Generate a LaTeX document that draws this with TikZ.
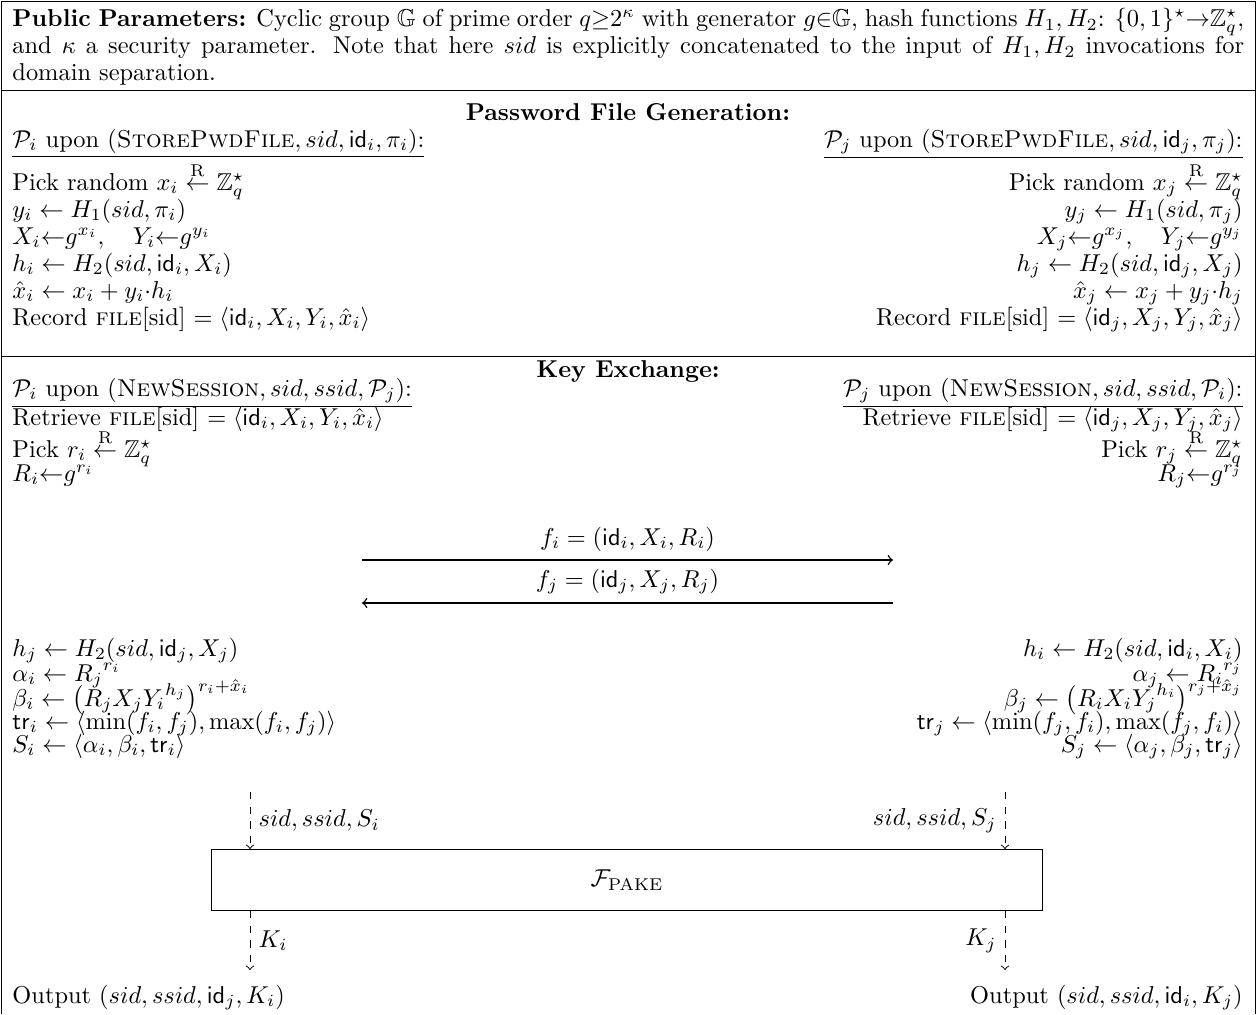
\documentclass[tikz,border=0pt]{standalone}
\usepackage{amsmath,amssymb}
\begin{document}
\begin{tikzpicture}[x=0.41pt,y=-0.41pt,
  lrow/.style={anchor=base west,inner sep=0pt},
  rrow/.style={anchor=base east,inner sep=0pt},
  head/.style={anchor=base,inner sep=0pt,font=\bfseries},
  msg/.style={draw,semithick,->},
  sig/.style={draw,dashed,->}]
\useasboundingbox (0,0) rectangle (1256,1014);
\draw (1,1014) -- (1,1) -- (1255,1) -- (1255,1014);
\node[anchor=north west,inner sep=0pt,text width=505pt,align=justify,font=\fontsize{10pt}{11pt}\selectfont] (pp) at (12,8) {\textbf{Public Parameters:} Cyclic group $\mathbb{G}$ of prime order $q{\geq}2^\kappa$ with generator $g{\in}\mathbb{G}$, hash functions $H_1,H_2$: $\{0,1\}^\star{\to}\mathbb{Z}_q^\star$, and $\kappa$ a security parameter. Note that here $sid$ is explicitly concatenated to the input of $H_1,H_2$ invocations for domain separation.};
\draw (1,90) -- (1255,90);
\draw (1,356) -- (1255,356);
\node[head] (pfg) at (628,120) {Password File Generation:};
\node[lrow] (pi1) at (12,147) {\underline{$\mathcal{P}_i$ upon $(\textsc{StorePwdFile}, sid, \mathsf{id}_i, \pi_i)$:}};
\node[lrow] (pi2) at (12,190) {Pick random $x_i \stackrel{\mathrm{R}}{\leftarrow} \mathbb{Z}_q^\star$};
\node[lrow] (pi3) at (12,217) {$y_i \leftarrow H_1(sid, \pi_i)$};
\node[lrow] (pi4) at (12,244) {$X_i{\leftarrow}g^{x_i},\quad Y_i{\leftarrow}g^{y_i}$};
\node[lrow] (pi5) at (12,271) {$h_i \leftarrow H_2(sid, \mathsf{id}_i, X_i)$};
\node[lrow] (pi6) at (12,298) {$\hat{x}_i \leftarrow x_i + y_i{\cdot}h_i$};
\node[lrow] (pi7) at (12,325) {Record \textsc{file}[sid] $= \langle \mathsf{id}_i, X_i, Y_i, \hat{x}_i\rangle$};
\node[rrow] (pj1) at (1243,147) {\underline{$\mathcal{P}_j$ upon $(\textsc{StorePwdFile}, sid, \mathsf{id}_j, \pi_j)$:}};
\node[rrow] (pj2) at (1243,190) {Pick random $x_j \stackrel{\mathrm{R}}{\leftarrow} \mathbb{Z}_q^\star$};
\node[rrow] (pj3) at (1243,217) {$y_j \leftarrow H_1(sid, \pi_j)$};
\node[rrow] (pj4) at (1243,244) {$X_j{\leftarrow}g^{x_j},\quad Y_j{\leftarrow}g^{y_j}$};
\node[rrow] (pj5) at (1243,271) {$h_j \leftarrow H_2(sid, \mathsf{id}_j, X_j)$};
\node[rrow] (pj6) at (1243,298) {$\hat{x}_j \leftarrow x_j + y_j{\cdot}h_j$};
\node[rrow] (pj7) at (1243,325) {Record \textsc{file}[sid] $= \langle \mathsf{id}_j, X_j, Y_j, \hat{x}_j\rangle$};
\node[head] (kex) at (628,377) {Key Exchange:};
\node[lrow] (ki1) at (12,396) {\underline{$\mathcal{P}_i$ upon $(\textsc{NewSession}, sid, ssid, \mathcal{P}_j)$:}};
\node[lrow] (ki2) at (12,425) {Retrieve \textsc{file}[sid] $= \langle \mathsf{id}_i, X_i, Y_i, \hat{x}_i\rangle$};
\node[lrow] (ki3) at (12,457) {Pick $r_i \stackrel{\mathrm{R}}{\leftarrow} \mathbb{Z}_q^\star$};
\node[lrow] (ki4) at (12,481) {$R_i{\leftarrow}g^{r_i}$};
\node[rrow] (kj1) at (1243,396) {\underline{$\mathcal{P}_j$ upon $(\textsc{NewSession}, sid, ssid, \mathcal{P}_i)$:}};
\node[rrow] (kj2) at (1243,425) {Retrieve \textsc{file}[sid] $= \langle \mathsf{id}_j, X_j, Y_j, \hat{x}_j\rangle$};
\node[rrow] (kj3) at (1243,457) {Pick $r_j \stackrel{\mathrm{R}}{\leftarrow} \mathbb{Z}_q^\star$};
\node[rrow] (kj4) at (1243,481) {$R_j{\leftarrow}g^{r_j}$};
\coordinate (ma) at (362,560);
\coordinate (mb) at (893,560);
\coordinate (mc) at (362,603);
\coordinate (md) at (893,603);
\path[msg] (ma) -- node[above] {$f_i = (\mathsf{id}_i, X_i, R_i)$} (mb);
\path[msg] (md) -- node[above] {$f_j = (\mathsf{id}_j, X_j, R_j)$} (mc);
\node[lrow] (ci1) at (12,656) {$h_j \leftarrow H_2(sid, \mathsf{id}_j, X_j)$};
\node[lrow] (ci2) at (12,681) {$\alpha_i \leftarrow {R_j}^{r_i}$};
\node[lrow] (ci3) at (12,706) {$\beta_i \leftarrow \big(R_j X_j {Y_i}^{h_j}\big)^{r_i+\hat{x}_i}$};
\node[lrow] (ci4) at (12,729) {$\mathsf{tr}_i \leftarrow \langle\min(f_i, f_j), \max(f_i, f_j)\rangle$};
\node[lrow] (ci5) at (12,752) {$S_i \leftarrow \langle\alpha_i, \beta_i, \mathsf{tr}_i\rangle$};
\node[rrow] (cj1) at (1243,656) {$h_i \leftarrow H_2(sid, \mathsf{id}_i, X_i)$};
\node[rrow] (cj2) at (1243,681) {$\alpha_j \leftarrow {R_i}^{r_j}$};
\node[rrow] (cj3) at (1243,706) {$\beta_j \leftarrow \big(R_i X_i {Y_j}^{h_i}\big)^{r_j+\hat{x}_j}$};
\node[rrow] (cj4) at (1243,729) {$\mathsf{tr}_j \leftarrow \langle\min(f_j, f_i), \max(f_j, f_i)\rangle$};
\node[rrow] (cj5) at (1243,752) {$S_j \leftarrow \langle\alpha_j, \beta_j, \mathsf{tr}_j\rangle$};
\node[draw,minimum width=341pt,minimum height=25pt] (pake) at (627,880) {$\mathcal{F}_{\mathrm{PAKE}}$};
\coordinate (si) at (250,792);
\coordinate (sj) at (1005,792);
\coordinate (oi) at (250,970);
\coordinate (oj) at (1005,970);
\path[sig] (si) -- node[right] {$sid, ssid, S_i$} (si |- pake.north);
\path[sig] (sj) -- node[left] {$sid, ssid, S_j$} (sj |- pake.north);
\path[sig] (oi |- pake.south) -- node[right] {$K_i$} (oi);
\path[sig] (oj |- pake.south) -- node[left] {$K_j$} (oj);
\node[lrow] (outi) at (12,1003) {Output $(sid, ssid, \mathsf{id}_j, K_i)$};
\node[rrow] (outj) at (1243,1003) {Output $(sid, ssid, \mathsf{id}_i, K_j)$};
\end{tikzpicture}
\end{document}
